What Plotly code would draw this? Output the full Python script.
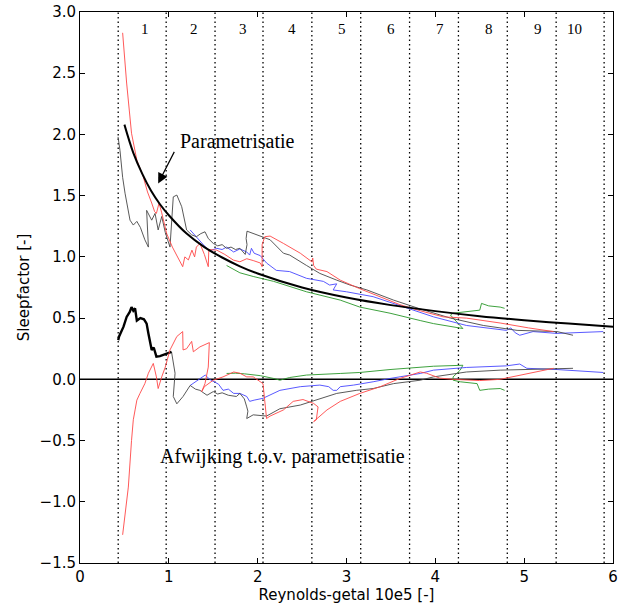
import plotly.graph_objects as go

# --- parametrisation curve ---
param_x = [0.5, 0.6, 0.7, 0.8, 0.9, 1.0, 1.2, 1.4, 1.6, 1.8, 2.0, 2.5, 3.0, 3.5, 4.0, 4.5, 5.0, 5.5, 6.0]
param_y = [2.08, 1.85, 1.68, 1.54, 1.43, 1.34, 1.19, 1.08, 0.995, 0.923, 0.864, 0.75, 0.668, 0.606, 0.557, 0.516, 0.483, 0.455, 0.43]

# --- measured sleepfactor series ---
red_x = [0.48, 0.525, 0.58, 0.64, 0.71, 0.76, 0.807, 0.84, 0.86, 0.89, 0.92, 0.976, 1.04, 1.10, 1.156, 1.18, 1.22, 1.26, 1.29, 1.31, 1.35, 1.40, 1.444, 1.45, 1.50, 1.54, 1.63, 1.726, 1.80, 1.877, 1.95, 2.03, 2.05, 2.05, 2.08, 2.14, 2.29, 2.48, 2.61, 2.62, 2.63, 2.66, 2.78, 2.93, 3.15, 3.38, 3.60, 3.83, 4.09, 4.35, 4.73, 5.05, 5.33]
red_y = [2.83, 2.42, 2.01, 1.79, 1.66, 1.53, 1.44, 1.37, 1.355, 1.44, 1.36, 1.19, 1.08, 0.99, 0.92, 1.0, 0.975, 1.055, 1.0, 1.08, 1.11, 1.02, 0.92, 1.06, 1.06, 1.055, 1.02, 0.974, 0.96, 0.985, 0.97, 0.95, 0.92, 1.10, 1.165, 1.17, 1.11, 1.03, 0.96, 0.99, 0.93, 0.90, 0.88, 0.81, 0.74, 0.675, 0.61, 0.56, 0.51, 0.50, 0.46, 0.42, 0.39]

black_x = [0.428, 0.45, 0.48, 0.507, 0.563, 0.60, 0.64, 0.68, 0.73, 0.77, 0.75, 0.807, 0.845, 0.88, 0.92, 0.96, 1.013, 1.03, 1.05, 1.09, 1.145, 1.2, 1.257, 1.31, 1.36, 1.407, 1.444, 1.50, 1.55, 1.60, 1.65, 1.70, 1.75, 1.80, 1.86, 1.88, 1.87, 1.88, 1.95, 2.03, 2.14, 2.29, 2.36, 2.55, 2.70, 2.89, 3.04, 3.23, 3.53, 3.83, 4.17, 4.54, 4.92, 5.37, 5.55]
black_y = [1.98, 1.87, 1.65, 1.52, 1.30, 1.26, 1.29, 1.24, 1.14, 1.08, 1.38, 1.30, 1.355, 1.22, 1.33, 1.20, 1.08, 1.245, 1.49, 1.505, 1.41, 1.22, 1.18, 1.165, 1.19, 1.205, 1.15, 1.11, 1.09, 1.10, 1.07, 1.08, 1.06, 1.07, 1.02, 1.10, 1.15, 1.21, 1.19, 1.165, 1.14, 1.03, 1.015, 0.93, 0.865, 0.81, 0.77, 0.73, 0.647, 0.575, 0.50, 0.44, 0.40, 0.39, 0.36]

blue_x = [1.24, 1.30, 1.35, 1.40, 1.46, 1.54, 1.60, 1.65, 1.73, 1.80, 1.877, 1.91, 1.93, 1.96, 2.03, 2.10, 2.21, 2.36, 2.55, 2.74, 2.81, 2.89, 2.85, 3.0, 3.30, 3.60, 3.98, 4.35, 4.80, 4.85, 4.90, 4.95, 5.10, 5.37, 5.89]
blue_y = [1.22, 1.17, 1.13, 1.09, 1.05, 1.07, 1.06, 1.08, 1.04, 1.065, 1.04, 1.015, 1.07, 1.03, 1.01, 0.95, 0.89, 0.88, 0.825, 0.80, 0.77, 0.78, 0.73, 0.715, 0.675, 0.60, 0.51, 0.44, 0.40, 0.42, 0.38, 0.36, 0.39, 0.375, 0.39]

green_x = [1.65, 1.80, 1.95, 2.18, 2.55, 2.93, 3.15, 3.49, 3.83, 3.98, 4.31, 4.26, 4.17, 4.20, 4.35, 4.50, 4.52, 4.60, 4.73, 4.78]
green_y = [0.93, 0.87, 0.84, 0.80, 0.715, 0.647, 0.59, 0.54, 0.48, 0.455, 0.415, 0.455, 0.525, 0.54, 0.55, 0.565, 0.62, 0.60, 0.59, 0.58]

# --- deviation series ---
black_dev_x = [0.43, 0.44, 0.49, 0.525, 0.56, 0.58, 0.60, 0.62, 0.64, 0.68, 0.72, 0.75, 0.77, 0.79, 0.807, 0.83, 0.86, 0.90, 0.94, 0.976, 1.03, 1.05, 1.07, 1.05, 1.09, 1.16, 1.24, 1.30, 1.35, 1.43, 1.50, 1.55, 1.60, 1.67, 1.76, 1.80, 1.85, 1.877, 1.89, 1.877, 1.95, 2.10, 2.25, 2.48, 2.70, 2.89, 3.11, 3.30, 3.53, 3.83, 3.98, 4.35, 4.73, 5.33, 5.55]
black_dev_y = [0.32, 0.35, 0.43, 0.51, 0.55, 0.59, 0.56, 0.58, 0.48, 0.50, 0.49, 0.455, 0.375, 0.30, 0.24, 0.26, 0.185, 0.19, 0.20, 0.21, 0.225, 0.15, 0.05, -0.14, -0.20, -0.14, -0.05, -0.08, -0.09, -0.13, -0.10, -0.12, -0.11, -0.13, -0.14, -0.115, -0.16, -0.225, -0.26, -0.32, -0.29, -0.30, -0.24, -0.21, -0.157, -0.115, -0.09, -0.075, -0.035, -0.007, 0.02, 0.06, 0.075, 0.09, 0.09]
black_dev_thick_n = 21

red_dev_x = [0.48, 0.507, 0.544, 0.58, 0.60, 0.62, 0.64, 0.675, 0.73, 0.77, 0.825, 0.86, 0.88, 0.92, 0.96, 1.013, 1.09, 1.156, 1.16, 1.20, 1.257, 1.276, 1.35, 1.456, 1.444, 1.407, 1.37, 1.40, 1.5, 1.61, 1.73, 1.80, 1.877, 1.95, 2.06, 2.08, 2.10, 2.14, 2.29, 2.40, 2.51, 2.63, 2.68, 2.66, 2.63, 2.78, 2.93, 3.15, 3.38, 3.60, 3.83, 3.90, 4.05, 4.20, 4.50, 4.73, 5.0, 5.33]
red_dev_y = [-1.27, -1.12, -0.88, -0.50, -0.33, -0.25, -0.17, -0.115, -0.035, 0.05, 0.13, 0.02, -0.075, 0.02, 0.10, 0.24, 0.35, 0.39, 0.24, 0.25, 0.31, 0.225, 0.265, 0.30, 0.10, -0.035, -0.10, -0.06, -0.007, 0.02, 0.06, 0.05, 0.02, 0.02, -0.035, -0.17, -0.32, -0.30, -0.25, -0.18, -0.165, -0.197, -0.225, -0.33, -0.345, -0.25, -0.18, -0.115, -0.06, 0.007, 0.06, 0.05, 0.01, 0.0, -0.01, 0.0, 0.04, 0.09]

blue_dev_x = [1.24, 1.30, 1.35, 1.41, 1.46, 1.52, 1.56, 1.61, 1.67, 1.73, 1.80, 1.877, 1.91, 1.96, 2.06, 2.25, 2.48, 2.70, 2.80, 2.85, 2.89, 2.93, 3.08, 3.30, 3.49, 3.83, 3.98, 4.35, 4.69, 4.80, 4.95, 5.03, 5.37, 5.89]
blue_dev_y = [-0.05, -0.02, 0.007, 0.035, 0.0, -0.02, -0.04, -0.09, -0.08, -0.115, -0.115, -0.14, -0.18, -0.17, -0.155, -0.09, -0.06, -0.047, -0.06, -0.09, -0.09, -0.06, -0.047, -0.02, 0.007, 0.048, 0.075, 0.097, 0.107, 0.11, 0.125, 0.09, 0.08, 0.056]

green_dev_x = [1.65, 1.75, 1.85, 1.95, 2.03, 2.18, 2.25, 2.36, 2.55, 2.93, 3.15, 3.49, 3.83, 3.98, 4.31, 4.28, 4.20, 4.20, 4.28, 4.47, 4.50, 4.60, 4.73, 4.78]
green_dev_y = [0.048, 0.05, 0.045, 0.035, 0.03, 0.007, -0.007, 0.015, 0.035, 0.048, 0.056, 0.08, 0.10, 0.107, 0.115, 0.075, 0.02, -0.007, -0.02, -0.035, -0.09, -0.08, -0.075, -0.09]

# --- zone boundaries and labels ---
zone_x = [0.43, 0.97, 1.52, 2.06, 2.61, 3.16, 3.71, 4.26, 4.81, 5.36, 5.90]
zone_label_x = [0.73, 1.28, 1.84, 2.39, 2.95, 3.50, 4.05, 4.60, 5.16, 5.57]
zone_labels = ["1", "2", "3", "4", "5", "6", "7", "8", "9", "10"]

fig = go.Figure()

# dotted zone lines
vx, vy = [], []
for z in zone_x:
    vx += [z, z, None]
    vy += [-1.5, 3.0, None]
fig.add_trace(go.Scatter(x=vx, y=vy, mode="lines",
                         line=dict(color="black", width=1.3, dash="1.5px,3px"),
                         hoverinfo="skip"))

# zero line
fig.add_trace(go.Scatter(x=[0, 6], y=[0, 0], mode="lines",
                         line=dict(color="black", width=1.5)))

thin = 0.9
fig.add_trace(go.Scatter(x=green_x, y=green_y, mode="lines", line=dict(color="rgb(40,150,40)", width=thin)))
fig.add_trace(go.Scatter(x=blue_x, y=blue_y, mode="lines", line=dict(color="rgb(70,70,255)", width=thin)))
fig.add_trace(go.Scatter(x=black_x, y=black_y, mode="lines", line=dict(color="rgb(70,70,70)", width=thin)))
fig.add_trace(go.Scatter(x=red_x, y=red_y, mode="lines", line=dict(color="rgb(255,70,70)", width=thin)))

fig.add_trace(go.Scatter(x=green_dev_x, y=green_dev_y, mode="lines", line=dict(color="rgb(40,150,40)", width=thin)))
fig.add_trace(go.Scatter(x=blue_dev_x, y=blue_dev_y, mode="lines", line=dict(color="rgb(70,70,255)", width=thin)))
fig.add_trace(go.Scatter(x=black_dev_x[black_dev_thick_n - 1:], y=black_dev_y[black_dev_thick_n - 1:],
                         mode="lines", line=dict(color="rgb(70,70,70)", width=thin)))
fig.add_trace(go.Scatter(x=black_dev_x[:black_dev_thick_n], y=black_dev_y[:black_dev_thick_n],
                         mode="lines", line=dict(color="black", width=2.4)))
fig.add_trace(go.Scatter(x=red_dev_x, y=red_dev_y, mode="lines", line=dict(color="rgb(255,70,70)", width=thin)))

# parametrisation
fig.add_trace(go.Scatter(x=param_x, y=param_y, mode="lines", line=dict(color="black", width=2, shape="spline")))

annotations = []
for lx, lt in zip(zone_label_x, zone_labels):
    annotations.append(dict(x=lx, y=2.86, text=lt, showarrow=False, xref="x", yref="y",
                            font=dict(family="Liberation Serif", size=15, color="black")))
annotations.append(dict(x=1.1, y=1.95, text="Parametrisatie", showarrow=False, xanchor="left",
                        xref="x", yref="y", font=dict(family="Liberation Serif", size=20, color="black")))
annotations.append(dict(x=0.88, y=1.60, ax=1.07, ay=1.87, axref="x", ayref="y", xref="x", yref="y",
                        text="", showarrow=True, arrowhead=2, arrowsize=1.7, arrowwidth=1.2, arrowcolor="black"))
annotations.append(dict(x=0.88, y=-0.63, text="Afwijking t.o.v. parametrisatie", showarrow=False, xanchor="left",
                        xref="x", yref="y", font=dict(family="Liberation Serif", size=20, color="black")))

axis_common = dict(showline=True, linecolor="black", linewidth=1, mirror="allticks",
                   ticks="inside", ticklen=5, tickcolor="black", showgrid=False, zeroline=False,
                   automargin=False,
                   tickfont=dict(family="DejaVu Sans", size=15, color="black"))

fig.update_layout(
    width=619, height=609,
    margin=dict(l=80, r=6, t=12, b=46),
    paper_bgcolor="white", plot_bgcolor="white",
    showlegend=False,
    annotations=annotations,
    xaxis=dict(range=[0, 6], tickmode="linear", tick0=0, dtick=1,
               title=dict(text="Reynolds-getal 10e5 [-]", standoff=3,
                          font=dict(family="DejaVu Sans", size=15, color="black")),
               **axis_common),
    yaxis=dict(range=[-1.5, 3.0], tickmode="linear", tick0=-1.5, dtick=0.5, tickformat=".1f",
               title=dict(text="Sleepfactor [-]", standoff=6,
                          font=dict(family="DejaVu Sans", size=15, color="black")),
               **axis_common),
)

fig.write_html("out.html")
